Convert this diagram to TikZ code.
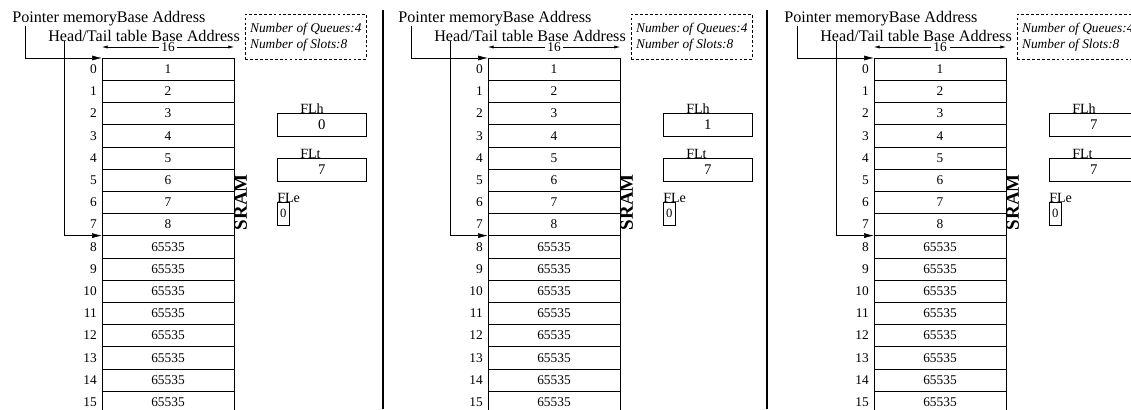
\documentclass[tikz,border=0pt]{standalone}
\usepackage{fontspec}
\setmainfont{Liberation Serif}
\usetikzlibrary{arrows.meta, positioning, calc}

\tikzset{
  lbl/.style={inner sep=0pt, font=\fontsize{11.5}{13}\selectfont},
  flname/.style={inner sep=0pt, font=\fontsize{10}{12}\selectfont},
  idx/.style={inner sep=0pt, font=\fontsize{9.5}{11}\selectfont},
  slot/.style={draw, minimum width=3.3cm, minimum height=0.555cm,
    inner sep=0pt, outer sep=0pt, font=\fontsize{9.5}{11}\selectfont},
  info/.style={draw, dash pattern=on 2pt off 1.5pt, align=left,
    minimum width=3.025cm, minimum height=1.125cm, inner sep=1pt,
    font=\fontsize{9.5}{11.4}\selectfont\itshape},
  reg/.style={draw, minimum width=2.225cm, minimum height=0.575cm,
    inner sep=0pt, font=\fontsize{10.5}{12}\selectfont},
  ereg/.style={draw, minimum width=0.3cm, minimum height=0.575cm,
    inner sep=0pt, font=\fontsize{9}{11}\selectfont},
  sram/.style={inner sep=0pt, font=\fontsize{13.5}{15}\selectfont\bfseries},
  ptr/.style={-{Latex[length=7pt, width=3.5pt]}},
  dim/.style={{Latex[length=4pt, width=2.2pt]}-{Latex[length=4pt, width=2.2pt]}},
}

\begin{document}
\begin{tikzpicture}[x=0.025cm, y=-0.025cm]
  \useasboundingbox (0,0) rectangle (1131,409);
  \clip (0,0) rectangle (1131,409);

  % one panel per step, FLh moves 0 -> 1 -> 7
  \foreach \pn/\hv in {0/0, 1/1, 2/7} {
    \begin{scope}[shift={(386*\pn,0)}]
      % memory slots 0..15
      \foreach \i in {0,...,15} {
        \ifnum\i<8 \pgfmathtruncatemacro{\v}{\i+1}\else \def\v{65535}\fi
        \node[slot] (s\pn-\i) at (168,69.1+22.2*\i) {\v};
        \node[idx, left=3.5pt of s\pn-\i.west] (n\pn-\i) {\i};
      }

      % width of a slot
      \draw[dim] ($(s\pn-0.north west)+(0,-11)$) --
        node[fill=white, idx, inner xsep=2pt, inner ysep=0pt] (w\pn) {16}
        ($(s\pn-0.north east)+(0,-11)$);

      \node[lbl, anchor=base west] (ptr\pn) at (12,22) {Pointer memoryBase Address};
      \node[lbl, anchor=base west] (ht\pn) at (48,41) {Head/Tail table Base Address};
      \node[info, anchor=north west] (info\pn) at (245,14)
        {Number of Queues:4\\Number of Slots:8};

      % base address pointers
      \draw[ptr] ($(ptr\pn.south west)+(13,0)$) |- (s\pn-0.north west);
      \draw[ptr] ($(ht\pn.south west)+(16,0)$) |- (s\pn-8.north west);

      \node[sram, rotate=90, anchor=north] (sram\pn) at (s\pn-6.east) {SRAM};

      % free list registers
      \node[reg, anchor=north west] (flh\pn) at (277,113) {\hv};
      \node[flname, anchor=base west] (flhl\pn) at ($(flh\pn.north west)+(23,0)$) {FLh};
      \node[reg, anchor=north west] (flt\pn) at (277,158) {7};
      \node[flname, anchor=base west] (fltl\pn) at ($(flt\pn.north west)+(23,0)$) {FLt};
      \node[ereg, anchor=north west] (fle\pn) at (277,202) {0};
      \node[flname, anchor=base west] (flel\pn) at (fle\pn.north west) {FLe};
    \end{scope}
  }

  % panel separators
  \foreach \x in {383,767}
    \draw[line width=1.6pt] (\x,10) -- (\x,409);
\end{tikzpicture}
\end{document}
